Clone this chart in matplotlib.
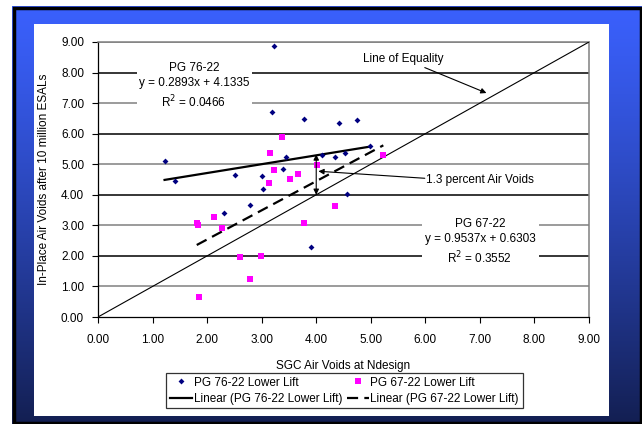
import numpy as np
import matplotlib
matplotlib.use('Agg')
import matplotlib.pyplot as plt
from matplotlib.patches import Rectangle
from matplotlib.lines import Line2D

plt.rcParams['font.family'] = ['Liberation Sans', 'DejaVu Sans']

# PG 76-22 lower lift points (SGC voids, in-place voids)
pg76_x = [1.22, 1.42, 2.31, 2.51, 2.79, 3.01, 3.03, 3.19, 3.22, 3.39,
          3.44, 3.77, 3.91, 4.10, 4.35, 4.41, 4.52, 4.56, 4.74, 4.99]
pg76_y = [5.11, 4.46, 3.42, 4.65, 3.68, 4.61, 4.20, 6.70, 8.88, 4.84,
          5.25, 6.48, 2.30, 5.29, 5.23, 6.36, 5.37, 4.02, 6.46, 5.58]

# PG 67-22 lower lift points
pg67_x = [1.81, 1.84, 1.85, 2.13, 2.28, 2.61, 2.78, 2.98, 3.14, 3.15,
          3.22, 3.37, 3.52, 3.66, 3.78, 4.02, 4.34, 5.23]
pg67_y = [3.08, 3.00, 0.66, 3.28, 2.90, 1.98, 1.25, 2.01, 4.40, 5.38,
          4.80, 5.88, 4.51, 4.69, 3.07, 4.99, 3.63, 5.30]

# Excel trendlines
fit76 = (0.2893, 4.1335, 0.0466)
fit67 = (0.9537, 0.6303, 0.3552)

ticks = [0, 1, 2, 3, 4, 5, 6, 7, 8, 9]

W, H = 642, 424
fig = plt.figure(figsize=(W / 100, H / 100), dpi=100)
fig.patch.set_facecolor('white')

# frame: blue gradient border + white panel
bg = fig.add_axes([0, 0, 1, 1], zorder=0)
bg.set_xlim(0, W)
bg.set_ylim(H, 0)
bg.axis('off')
top = np.array([0x3a, 0x60, 0xfc]) / 255
bot = np.array([0x13, 0x1f, 0x52]) / 255
t = np.linspace(0, 1, 256)[:, None] ** 1.2
grad = (top[None, :] * (1 - t) + bot[None, :] * t)[:, None, :]
bg.imshow(grad, extent=(12, W, H, 6), aspect='auto', zorder=1)
bg.add_patch(Rectangle((13.5, 7.5), W - 15, H - 9, fill=False,
                       ec='black', lw=2.5, zorder=2))
bg.add_patch(Rectangle((34, 24), 575, 392, fc='white', ec='none', zorder=3))

ax = fig.add_axes([98 / W, 1 - 317 / H, (589 - 98) / W, (317 - 42) / H], zorder=1)
ax.set_facecolor('none')
ax.set_xlim(0, 9)
ax.set_ylim(0, 9)

# gridlines, alternating gray and black like the original
for v in ticks[1:]:
    c = '#808080' if v % 2 else 'black'
    ax.axhline(v, color=c, lw=1.1, zorder=1)

for s in ['top', 'right']:
    ax.spines[s].set_color('#808080')
    ax.spines[s].set_linewidth(1.1)
for s in ['left', 'bottom']:
    ax.spines[s].set_color('black')
    ax.spines[s].set_linewidth(0.9)

ax.set_xticks(ticks)
ax.set_yticks(ticks)
ax.set_xticklabels(['%.2f' % v for v in ticks])
ax.set_yticklabels(['%.2f' % v for v in ticks])
ax.tick_params(direction='out', length=4, width=0.8, labelsize=8.5,
               colors='black', pad=6)
ax.tick_params(axis='x', pad=8)

ax.set_xlabel('SGC Air Voids at Ndesign', fontsize=8.5, labelpad=10)
ax.set_ylabel('In-Place Air Voids after 10 million ESALs', fontsize=8.5, labelpad=8)

# line of equality
ax.plot([0, 9], [0, 9], color='black', lw=0.8, zorder=3)

# trendlines
xs76 = np.array([min(pg76_x), max(pg76_x)])
ax.plot(xs76, fit76[0] * xs76 + fit76[1], color='black', lw=1.6, zorder=4)
xs67 = np.array([min(pg67_x), max(pg67_x)])
ax.plot(xs67, fit67[0] * xs67 + fit67[1], color='black', lw=1.6,
        dashes=(5, 2.8), zorder=4)

ax.scatter(pg76_x, pg76_y, marker='D', s=9, color='#000080', linewidths=0, zorder=5)
ax.scatter(pg67_x, pg67_y, marker='s', s=17, color='#ff00ff', linewidths=0, zorder=5)

# equation labels with white backing over the gridlines
ax.add_patch(Rectangle((0.71, 6.72), 2.11, 1.68, fc='white', ec='none', zorder=2))
ax.text(1.76, 7.56, 'PG 76-22\ny = %.4fx + %.4f\nR$^2$ = %.4f' % fit76,
        ha='center', va='center', fontsize=8.5, linespacing=1.35, zorder=6)
ax.add_patch(Rectangle((5.93, 1.6), 2.15, 1.68, fc='white', ec='none', zorder=2))
ax.text(7.0, 2.45, 'PG 67-22\ny = %.4fx + %.4f\nR$^2$ = %.4f' % fit67,
        ha='center', va='center', fontsize=8.5, linespacing=1.35, zorder=6)

# annotations
ax.annotate('Line of Equality', xy=(7.12, 7.33), xytext=(5.6, 8.45),
            ha='center', va='center', fontsize=8.5, zorder=6,
            arrowprops=dict(arrowstyle='-|>', color='black', lw=0.8,
                            mutation_scale=8, shrinkA=0, shrinkB=0))
ax.annotate('', xy=(4.0, 5.32), xytext=(4.0, 4.0), zorder=6,
            arrowprops=dict(arrowstyle='<|-|>', color='black', lw=0.8,
                            mutation_scale=8, shrinkA=0, shrinkB=0))
ax.annotate('', xy=(4.04, 4.77), xytext=(5.99, 4.54), zorder=6,
            arrowprops=dict(arrowstyle='-|>', color='black', lw=0.8,
                            mutation_scale=8, shrinkA=0, shrinkB=0))
ax.text(6.02, 4.49, '1.3 percent Air Voids', ha='left', va='center',
        fontsize=8.5, zorder=6)

handles = [
    Line2D([], [], ls='none', marker='D', ms=3, mew=0, color='#000080'),
    Line2D([], [], color='black', lw=1.6),
    Line2D([], [], ls='none', marker='s', ms=4, mew=0, color='#ff00ff'),
    Line2D([], [], color='black', lw=1.6, dashes=(5, 2.8)),
]
labels = ['PG 76-22 Lower Lift', 'Linear (PG 76-22 Lower Lift)',
          'PG 67-22 Lower Lift', 'Linear (PG 67-22 Lower Lift)']
leg = fig.legend(handles, labels, ncol=2, loc='upper center',
                 bbox_to_anchor=(344.5 / W, 1 - 373 / H), fontsize=8.5,
                 frameon=True, fancybox=False, handlelength=1.9,
                 handletextpad=0.1, columnspacing=0.4, labelspacing=0.35,
                 borderpad=0.3, borderaxespad=0)
leg.get_frame().set_edgecolor('black')
leg.get_frame().set_linewidth(0.9)
leg.set_zorder(10)

fig.savefig('out.png', dpi=100)
